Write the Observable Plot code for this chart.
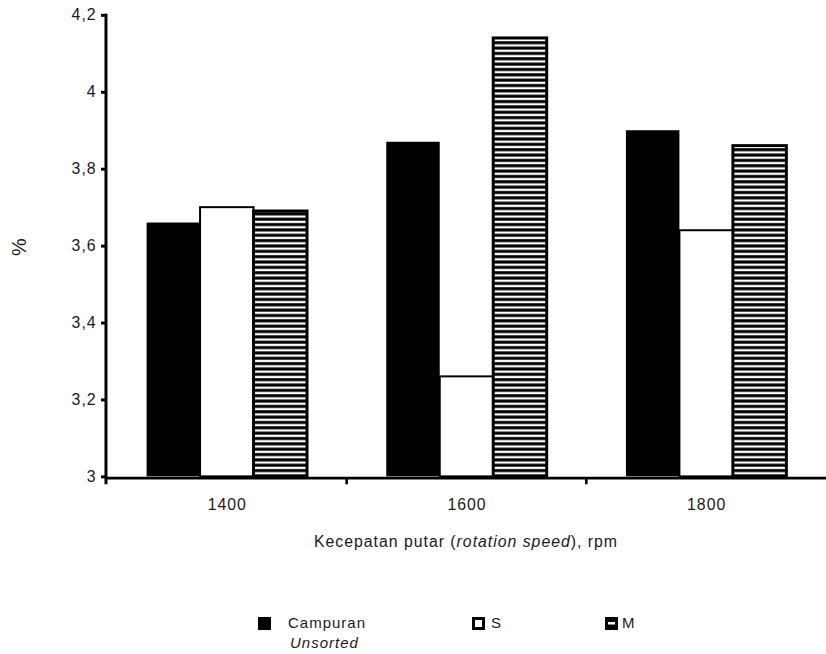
<!DOCTYPE html>
<html>
<head>
<meta charset="utf-8">
<script src="https://cdn.jsdelivr.net/npm/d3@7"></script>
<script src="https://cdn.jsdelivr.net/npm/@observablehq/plot@0.6"></script>
<style>
  html, body { margin: 0; padding: 0; background: #fff; overflow: hidden; width: 826px; height: 654px; }
  body { position: relative; font-family: "Liberation Sans", Arial, sans-serif; color: #1a1a1a; }
  #chart svg { display: block; }
  #chart [aria-label^="y-axis"] path, #chart [aria-label^="y-axis"] line { stroke-width: 3px; stroke: #000; }
  .leg { position: absolute; font-size: 15px; letter-spacing: 1px; line-height: 18px; }
  .sw { position: absolute; box-sizing: border-box; width: 13px; height: 13px; }
</style>
</head>
<body>
<div id="chart"></div>
<div id="legend"></div>
<script>
// ---- data ----
const groups = [1400, 1600, 1800];
const series = ["Campuran", "S", "M"];
const campuranValues = [3.66, 3.87, 3.90];
const sValues = [3.70, 3.26, 3.64];
const mValues = [3.69, 4.14, 3.86];
const yTicks = [3, 3.2, 3.4, 3.6, 3.8, 4, 4.2];
const yBase = 3;
const yLabel = "%";
const legendLabels = ["Campuran", "S", "M"];
const legendSub = "Unsorted";

const seriesValues = [campuranValues, sValues, mValues];
const data = groups.flatMap((g, i) =>
  series.map((s, j) => ({group: g, series: s, value: seriesValues[j][i]}))
);

const W = 834, H = 595, ML = 107, MT = 15, MB = 114;

const chart = Plot.plot({
  width: W, height: H,
  marginLeft: ML, marginRight: 0, marginTop: MT, marginBottom: MB,
  style: {fontFamily: "Liberation Sans, Arial, sans-serif", fontSize: "16px", letterSpacing: "1px", color: "#1a1a1a", background: "#fff"},
  facet: {data, x: "group"},
  fx: {domain: groups, padding: 0, axis: "bottom", tickSize: 0, tickPadding: 22, label: null, tickFormat: d => String(d)},
  x: {domain: series, paddingInner: 0, paddingOuter: 0.74, axis: null},
  y: {domain: [yTicks[0], yTicks[yTicks.length - 1]], ticks: yTicks, tickFormat: d => String(d).replace(".", ","),
      tickSize: 6, tickPadding: 5, label: null},
  marks: [
    Plot.barY(data, {filter: d => d.series === "Campuran", x: "series", y1: () => yBase, y2: "value", fill: "#000"}),
    Plot.barY(data, {filter: d => d.series === "S", x: "series", y1: () => yBase, y2: "value", fill: "#fff", stroke: "#000", strokeWidth: 2}),
    Plot.barY(data, {filter: d => d.series === "M", x: "series", y1: () => yBase, y2: "value", fill: "url(#hatch)", stroke: "#000", strokeWidth: 3})
  ]
});

const svg = d3.select(chart);
svg.selectAll('[aria-label^="y-axis"] path, [aria-label^="y-axis"] line').attr("stroke-width", 3).attr("stroke", "#000");
// hatch pattern
const defs = svg.insert("defs", ":first-child");
const pat = defs.append("pattern").attr("id", "hatch").attr("patternUnits", "userSpaceOnUse")
  .attr("width", 10).attr("height", 5.4);
pat.append("rect").attr("width", 10).attr("height", 5.4).attr("fill", "#000");
pat.append("rect").attr("y", 1.5).attr("width", 10).attr("height", 2.3).attr("fill", "#fff");

const y = chart.scale("y");
const fx = chart.scale("fx");
const y0 = y.apply(yBase);
const yTop = y.apply(yTicks[yTicks.length - 1]);

// x axis line
svg.append("line").attr("x1", ML).attr("x2", W).attr("y1", y0 + 1.8).attr("y2", y0 + 1.8)
  .attr("stroke", "#000").attr("stroke-width", 2.6);
// y axis line
svg.append("line").attr("x1", ML).attr("x2", ML).attr("y1", yTop - 1).attr("y2", y0 + 8)
  .attr("stroke", "#000").attr("stroke-width", 3);
// group boundary ticks
groups.slice(1).forEach(g => {
  const xb = fx.apply(g);
  svg.append("line").attr("x1", xb).attr("x2", xb).attr("y1", y0 + 2).attr("y2", y0 + 8)
    .attr("stroke", "#000").attr("stroke-width", 2.6);
});
// x axis title
const cx = ML + (W - ML) / 2;
const t = svg.append("text").attr("x", cx).attr("y", 552).attr("text-anchor", "middle")
  .attr("fill", "#1a1a1a").style("font-size", "16px").style("letter-spacing", "1px");
t.append("tspan").text("Kecepatan putar (");
t.append("tspan").attr("font-style", "italic").text("rotation speed");
t.append("tspan").text("), rpm");
// y axis title
svg.append("text").attr("transform", `translate(26,${(yTop + y0) / 2 + 1}) rotate(-90)`)
  .attr("text-anchor", "middle").attr("fill", "#1a1a1a").style("font-size", "20px").text(yLabel);

document.getElementById("chart").appendChild(chart);

// legend
const legend = document.getElementById("legend");
legend.innerHTML = `
  <div class="sw" style="left:258px;top:617px;background:#000"></div>
  <div class="leg" style="left:288px;top:614px">${legendLabels[0]}</div>
  <div class="leg" style="left:290px;top:634px;font-style:italic">${legendSub}</div>
  <div class="sw" style="left:472px;top:617px;background:#fff;border:3px solid #000"></div>
  <div class="leg" style="left:491px;top:614px">${legendLabels[1]}</div>
  <svg style="position:absolute;left:605px;top:617px" width="13" height="13">
    <rect width="13" height="13" fill="#000"/><rect x="3" y="5" width="7" height="2.5" fill="#fff"/>
  </svg>
  <div class="leg" style="left:622px;top:614px">${legendLabels[2]}</div>
`;
</script>
</body>
</html>
